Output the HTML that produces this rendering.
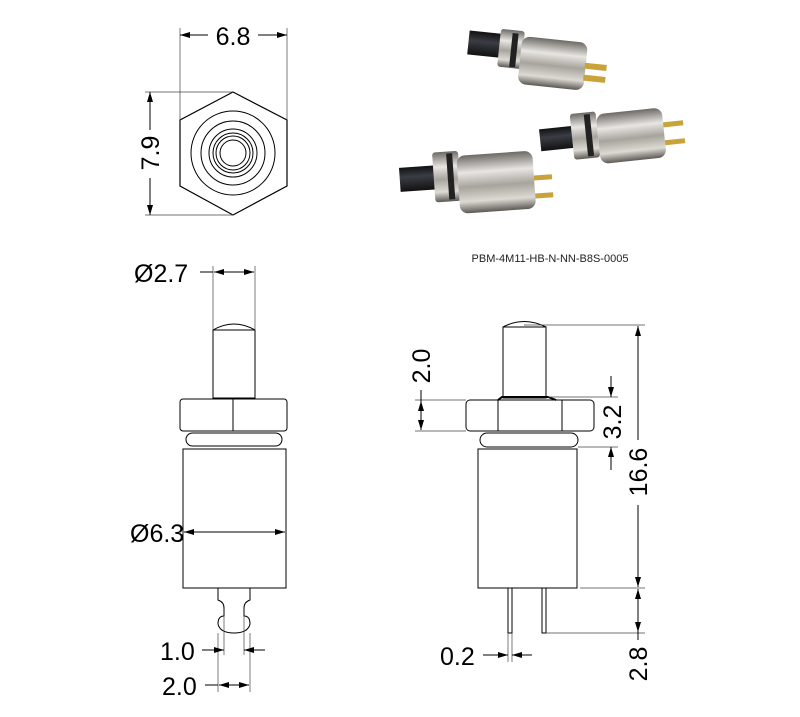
<!DOCTYPE html>
<html><head><style>
html,body{margin:0;padding:0;background:#fff;}
svg{display:block;font-family:"Liberation Sans",sans-serif;}
</style></head><body>
<svg width="800" height="717" viewBox="0 0 800 717" xmlns="http://www.w3.org/2000/svg">
<defs>
<marker id="a" viewBox="0 0 10 6" refX="10" refY="3" markerWidth="10" markerHeight="6" orient="auto-start-reverse" markerUnits="userSpaceOnUse"><path d="M0,0 L10,3 L0,6 z" fill="#000"/></marker>
<linearGradient id="met" x1="0" y1="0" x2="0" y2="1"><stop offset="0" stop-color="#6d6a66"/><stop offset=".3" stop-color="#e8e6e2"/><stop offset=".55" stop-color="#a7a39d"/><stop offset=".8" stop-color="#ddd9d3"/><stop offset="1" stop-color="#5c5955"/></linearGradient>
<linearGradient id="blk" x1="0" y1="0" x2="0" y2="1"><stop offset="0" stop-color="#111"/><stop offset=".4" stop-color="#3a3d44"/><stop offset="1" stop-color="#111"/></linearGradient>
</defs>
<g stroke="#000" fill="none" stroke-width="1">
<!-- top view hex -->
<polygon points="233,92 287,120 287,186 233,215 180,186 180,120" stroke-width="1.2"/>
<circle cx="233" cy="153" r="42"/>
<circle cx="233" cy="153" r="32"/>
<circle cx="233" cy="153" r="24"/>
<circle cx="233" cy="153" r="20"/>
<circle cx="233" cy="153" r="17"/>
<circle cx="233" cy="153" r="13"/>
<g stroke-width=".7" stroke="#444">
<line x1="180" y1="28" x2="180" y2="120"/><line x1="287" y1="28" x2="287" y2="120"/>
<line x1="145" y1="92" x2="233" y2="92"/><line x1="145" y1="215" x2="233" y2="215"/>
</g>
<line x1="180" y1="35" x2="208" y2="35" marker-start="url(#a)"/><line x1="258" y1="35" x2="287" y2="35" marker-end="url(#a)"/>
<line x1="150" y1="92" x2="150" y2="130" marker-start="url(#a)"/><line x1="150" y1="178" x2="150" y2="215" marker-end="url(#a)"/>

<!-- left side view -->
<path d="M213,330 Q234,318 255,330"/>
<rect x="213" y="330" width="42" height="68"/>
<rect x="180" y="399" width="107" height="32" rx="3"/>
<line x1="233" y1="399" x2="233" y2="431"/>
<rect x="186" y="433" width="96" height="13" rx="6.5"/>
<rect x="183" y="449" width="103" height="139"/>
<path d="M218,588 V600 Q224,602 224,608 V616 Q218,616 218,624 Q220,633 234,633 Q248,633 250,624 Q250,616 244,616 V608 Q244,602 250,600 V588"/>
<g stroke-width=".7" stroke="#444">
<line x1="213" y1="266" x2="213" y2="330"/><line x1="255" y1="266" x2="255" y2="330"/>
<line x1="218" y1="633" x2="218" y2="692"/><line x1="250" y1="633" x2="250" y2="692"/>
<line x1="224" y1="616" x2="224" y2="655"/><line x1="244" y1="616" x2="244" y2="655"/>
</g>
<line x1="200" y1="272" x2="213" y2="272"/>
<line x1="214" y1="272" x2="254" y2="272" marker-start="url(#a)" marker-end="url(#a)"/>
<line x1="184" y1="532" x2="285" y2="532" marker-start="url(#a)" marker-end="url(#a)"/>
<line x1="202" y1="650" x2="224" y2="650" marker-end="url(#a)"/><line x1="244" y1="650" x2="265" y2="650" marker-start="url(#a)"/>
<line x1="205" y1="685" x2="218" y2="685"/><line x1="219" y1="685" x2="249" y2="685" marker-start="url(#a)" marker-end="url(#a)"/>

<!-- right side view -->
<path d="M503,327 Q524,316 546,327"/>
<rect x="503" y="327" width="43" height="71"/>
<rect x="466" y="400" width="128" height="31" rx="4"/>
<line x1="498" y1="400" x2="498" y2="431"/><line x1="562" y1="400" x2="562" y2="431"/>
<path d="M498,400 L502,397 H548 L556,400" stroke-width="2"/>
<rect x="480" y="433" width="98" height="14" rx="7"/>
<rect x="478" y="449" width="99" height="139"/>
<rect x="508" y="588" width="4" height="45"/>
<rect x="542" y="588" width="4" height="45"/>
<g stroke-width=".7" stroke="#444">
<line x1="524" y1="325" x2="645" y2="325"/>
<line x1="580" y1="588" x2="645" y2="588"/>
<line x1="546" y1="633" x2="645" y2="633"/>
<line x1="415" y1="400" x2="466" y2="400"/><line x1="415" y1="431" x2="466" y2="431"/>
<line x1="548" y1="397" x2="618" y2="397"/><line x1="578" y1="447" x2="618" y2="447"/>
<line x1="508" y1="633" x2="508" y2="662"/><line x1="512" y1="633" x2="512" y2="662"/>
</g>
<line x1="638" y1="326" x2="638" y2="440" marker-start="url(#a)"/><line x1="638" y1="505" x2="638" y2="587" marker-end="url(#a)"/>
<line x1="638" y1="589" x2="638" y2="632" marker-start="url(#a)" marker-end="url(#a)"/>
<line x1="638" y1="632" x2="638" y2="640"/>
<line x1="421" y1="390" x2="421" y2="401"/><line x1="421" y1="401" x2="421" y2="430" marker-start="url(#a)" marker-end="url(#a)"/>
<line x1="611" y1="376" x2="611" y2="397" marker-end="url(#a)"/><line x1="611" y1="470" x2="611" y2="447" marker-end="url(#a)"/>
<line x1="483" y1="655" x2="508" y2="655" marker-end="url(#a)"/><line x1="532" y1="655" x2="512" y2="655" marker-end="url(#a)"/>
</g>
<g font-size="25" fill="#000">
<text x="233" y="45" text-anchor="middle">6.8</text>
<text transform="translate(159,153) rotate(-90)" text-anchor="middle">7.9</text>
<text x="134" y="282">Ø2.7</text>
<text x="130" y="542">Ø6.3</text>
<text x="160" y="660">1.0</text>
<text x="162" y="695">2.0</text>
<text x="440" y="665">0.2</text>
<text transform="translate(430,366) rotate(-90)" text-anchor="middle">2.0</text>
<text transform="translate(621,422) rotate(-90)" text-anchor="middle">3.2</text>
<text transform="translate(647,472) rotate(-90)" text-anchor="middle">16.6</text>
<text transform="translate(647,664) rotate(-90)" text-anchor="middle">2.8</text>
</g>
<text x="550" y="262" font-size="11" text-anchor="middle" fill="#222">PBM-4M11-HB-N-NN-B8S-0005</text>

<!-- photos -->
<g transform="rotate(6 540 60)">
<rect x="467" y="38" width="34" height="24" fill="url(#blk)"/>
<rect x="498" y="33" width="24" height="38" rx="3" fill="url(#met)"/>
<rect x="510" y="36" width="6" height="34" fill="#222"/>
<rect x="520" y="38" width="66" height="48" rx="8" fill="url(#met)"/>
<rect x="585" y="58" width="22" height="6" fill="#c9a23a"/><rect x="585" y="70" width="22" height="6" fill="#c9a23a"/>
</g>
<g transform="rotate(-6 610 135)">
<rect x="540" y="122" width="36" height="22" fill="url(#blk)"/>
<rect x="572" y="110" width="26" height="46" rx="3" fill="url(#met)"/>
<rect x="586" y="112" width="6" height="42" fill="#222"/>
<rect x="598" y="113" width="66" height="50" rx="8" fill="url(#met)"/>
<rect x="664" y="128" width="20" height="5" fill="#c9a23a"/><rect x="664" y="146" width="20" height="5" fill="#c9a23a"/>
</g>
<g transform="rotate(-4 470 180)">
<rect x="400" y="163" width="38" height="24" fill="url(#blk)"/>
<rect x="434" y="150" width="26" height="50" rx="3" fill="url(#met)"/>
<rect x="448" y="152" width="6" height="46" fill="#222"/>
<rect x="458" y="155" width="76" height="58" rx="8" fill="url(#met)"/>
<rect x="534" y="180" width="18" height="5" fill="#c9a23a"/><rect x="534" y="198" width="18" height="5" fill="#c9a23a"/>
</g>
</svg>
</body></html>
